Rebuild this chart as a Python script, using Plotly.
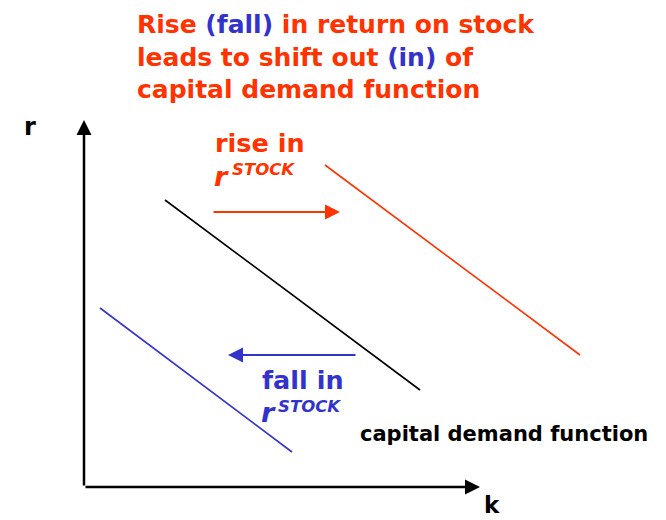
import plotly.graph_objects as go

# Schematic data (k = capital, r = return), origin at the axes corner
axis_k = [0, 396]          # horizontal axis extent
axis_r = [0, 367]          # vertical axis extent

demand_k = [81, 336]       # original capital demand function
demand_r = [287, 97]
rise_k = [241, 496]        # shifted out (rise in r^STOCK)
rise_r = [322, 132]
fall_k = [16, 208]         # shifted in (fall in r^STOCK)
fall_r = [179, 35]

rise_arrow_k = [128, 256]  # tail, tip
rise_arrow_r = [275, 275]
fall_arrow_k = [273, 144]
fall_arrow_r = [132, 132]

ORANGE = "#FF3300"
BLUE = "#3333CC"
FONT = "DejaVu Sans"

OFF = 8                    # page body margin
W, H = 666 - OFF, 520 - OFF
X0, Y0 = 84 - OFF, 487 - OFF  # pixel position of origin within the figure


def px(x, y):
    """window pixel -> paper coordinates for text placement"""
    return (x - OFF) / W, 1 - (y - OFF) / H


fig = go.Figure()
fig.add_trace(go.Scatter(x=demand_k, y=demand_r, mode="lines",
                         line=dict(color="black", width=1.6), hoverinfo="skip"))
fig.add_trace(go.Scatter(x=rise_k, y=rise_r, mode="lines",
                         line=dict(color=ORANGE, width=1.6), hoverinfo="skip"))
fig.add_trace(go.Scatter(x=fall_k, y=fall_r, mode="lines",
                         line=dict(color=BLUE, width=1.6), hoverinfo="skip"))

annotations = []


def arrow(xt, yt, xh, yh, color, width, size):
    annotations.append(dict(x=xh, y=yh, ax=xt, ay=yt, xref="x", yref="y",
                            axref="x", ayref="y", text="", showarrow=True,
                            arrowhead=2, arrowwidth=width, arrowsize=size,
                            arrowcolor=color, standoff=0, startstandoff=0))


# axes
arrow(axis_k[0], axis_r[0], axis_k[1], axis_r[0], "black", 2.5, 1.2)
arrow(axis_k[0], axis_r[0], axis_k[0], axis_r[1], "black", 2.5, 1.2)
# shift arrows
arrow(rise_arrow_k[0], rise_arrow_r[0], rise_arrow_k[1], rise_arrow_r[1], ORANGE, 2, 1.5)
arrow(fall_arrow_k[0], fall_arrow_r[0], fall_arrow_k[1], fall_arrow_r[1], BLUE, 2, 1.5)


def text(t, x, y, size, color, xanchor="left", yanchor="middle", align="left"):
    xp, yp = px(x, y)
    annotations.append(dict(text=t, x=xp, y=yp, xref="paper", yref="paper",
                            xanchor=xanchor, yanchor=yanchor, align=align,
                            showarrow=False, borderpad=0,
                            font=dict(family=FONT, size=size, color=color)))


title = ("<b>Rise <span style='color:%s'>(fall)</span> in return on stock<br>"
         "leads to shift out <span style='color:%s'>(in)</span> of<br>"
         "capital demand function</b>") % (BLUE, BLUE)
text(title, 136, 57, 25, ORANGE)

text("<b>r</b>", 30, 127, 24, "black", xanchor="center")
text("<b>k</b>", 492, 505, 23, "black", xanchor="center")

text("<b>rise in</b>", 214, 143, 25.5, ORANGE)
text("<b><i>r</i></b>", 213, 176, 27, ORANGE)
text("<b><i>STOCK</i></b>", 231, 169, 16.5, ORANGE)

text("<b>fall in</b>", 261, 380, 25.5, BLUE)
text("<b><i>r</i></b>", 260, 412, 27, BLUE)
text("<b><i>STOCK</i></b>", 277, 406, 16.5, BLUE)

text("<b>capital demand function</b>", 359, 434, 21, "black")

fig.update_layout(
    width=W, height=H,
    margin=dict(l=0, r=0, t=0, b=0),
    paper_bgcolor="white", plot_bgcolor="white",
    showlegend=False,
    annotations=annotations,
    xaxis=dict(range=[-X0, W - X0], visible=False, fixedrange=True),
    yaxis=dict(range=[Y0 - H, Y0], visible=False, fixedrange=True),
)

fig.write_html("out.html", config={"displayModeBar": False})
